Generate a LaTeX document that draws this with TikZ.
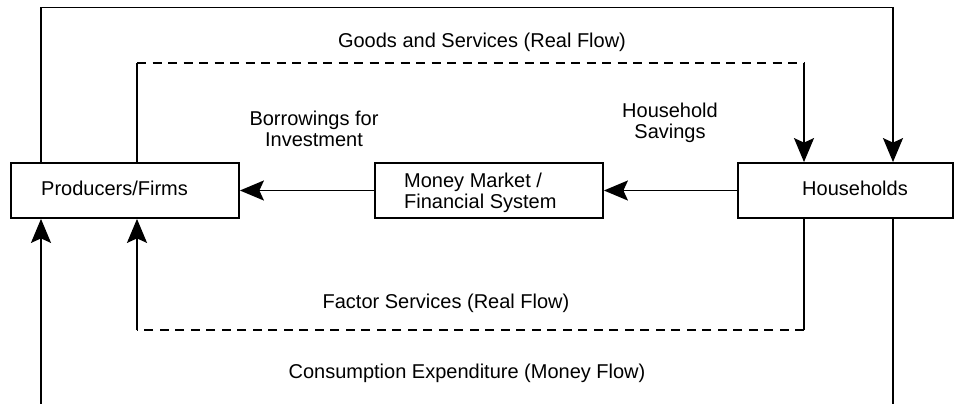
\documentclass[tikz,border=0pt]{standalone}
\usepackage{fontspec}
\setmainfont{Liberation Sans}
\usetikzlibrary{arrows.meta}
\begin{document}
\begin{tikzpicture}[x=1pt,y=-1pt,
  box/.style={draw,line width=1.8pt,rectangle,inner sep=0pt,minimum height=55pt},
  txt/.style={font=\fontsize{20}{21}\selectfont,inner sep=0pt},
  flow/.style={line width=1.8pt,-{Stealth[length=24pt,width=20pt,inset=4.5pt]}},
  plain/.style={line width=1.8pt},
  dashline/.style={dash pattern=on 9pt off 6.5pt}]
\path[use as bounding box] (0,0) rectangle (954,404);
% boxes
\node[box,minimum width=228pt] (prod) at (125,190.5) {};
\node[box,minimum width=228pt] (mm) at (489,190.5) {};
\node[box,minimum width=215pt] (hh) at (845.5,190.5) {};
% box texts
\node[txt,anchor=base west] (prodt) at (41,195) {Producers/Firms};
\node[txt,anchor=west,align=left] (mmt) at (404,193) {Money Market /\\Financial System};
\node[txt,anchor=base west] (hht) at (802,195) {Households};
% helper coordinates
\coordinate (xa) at (41,0);
\coordinate (xb) at (137,0);
\coordinate (xc) at (804,0);
\coordinate (xd) at (893,0);
\coordinate (ytop) at (0,7.5);
\coordinate (ydash) at (0,63);
\coordinate (ybot) at (0,330);
\coordinate (yend) at (0,405);
% connectors
\draw[flow] (hh.west) -- (mm.east);
\draw[flow] (mm.west) -- (prod.east);
\draw[flow] (prod.north -| xa) -- (xa |- ytop) -- (xd |- ytop) -- (hh.north -| xd);
% goods and services (dashed horizontal)
\draw[plain] (prod.north -| xb) -- (xb |- ydash);
\draw[plain,dashline] (xb |- ydash) -- (xc |- ydash);
\draw[flow] (xc |- ydash) -- (hh.north -| xc);
% factor services (dashed horizontal)
\draw[plain] (hh.south -| xc) -- (xc |- ybot);
\draw[plain,dashline] (xc |- ybot) -- (xb |- ybot);
\draw[flow] (xb |- ybot) -- (prod.south -| xb);
% consumption expenditure
\draw[plain] (hh.south -| xd) -- (xd |- yend);
\draw[flow] (xa |- yend) -- (prod.south -| xa);
% labels
\node[txt,anchor=base] (goods) at (482,48) {Goods and Services (Real Flow)};
\node[txt,anchor=center,align=center] (borrow) at (314,129) {Borrowings for\\Investment};
\node[txt,anchor=center,align=center] (sav) at (670,123) {Household\\Savings};
\node[txt,anchor=base] (factor) at (446,308) {Factor Services (Real Flow)};
\node[txt,anchor=base] (cons) at (467,378) {Consumption Expenditure (Money Flow)};
\end{tikzpicture}
\end{document}
